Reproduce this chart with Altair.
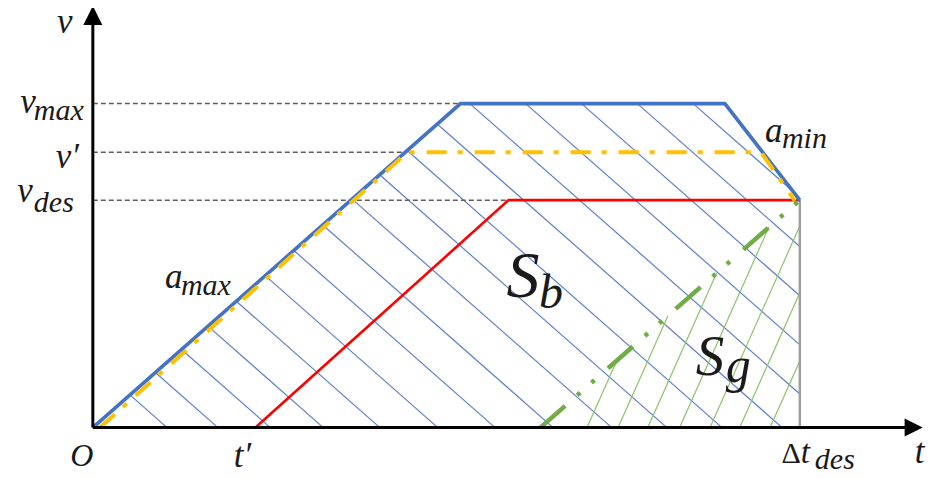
import altair as alt
import pandas as pd

# ---------------- data (t: time units, v: speed units) ----------------
T_DES = 10.0          # Δt_des
V_MAX = 10.0          # v_max
V_PRIME = 8.5         # v'
V_DES = 7.02          # v_des
T_APEX = 5.2          # end of a_max ramp
T_DECEL = 8.94        # start of a_min ramp
T_PRIME = 2.3         # t'
T_RED_CORNER = 5.88   # red profile reaches v_des
T_GREEN_START = 6.33  # green profile start
V_ARROW = 12.72       # top of v axis
T_ARROW = 11.61       # end of t axis

blue_t = [0.0, T_APEX, T_DECEL, T_DES]
blue_v = [0.0, V_MAX, V_MAX, V_DES]

yellow_t = [0.1, 4.45, 9.45, 9.93]
yellow_v = [0.0, V_PRIME, V_PRIME, 7.0]

red_t = [T_PRIME, T_RED_CORNER, T_DES]
red_v = [0.0, V_DES, V_DES]

green_t = [T_GREEN_START, T_DES]
green_v = [0.0, V_DES]

# hatch lines, given by where they cross v = 0
blue_hatch_t0 = [1.05, 1.77, 2.51, 3.26, 4.06, 4.88, 5.69, 6.51, 7.34, 8.12,
                 8.90, 9.75, 10.54, 11.33, 12.12, 12.91, 13.70]
BLUE_HATCH_SLOPE = -1.92
green_hatch_t0 = [6.99, 7.43, 7.85, 8.30, 8.73, 9.15, 9.58]
GREEN_HATCH_SLOPE = 4.9

blue_poly = list(zip(blue_t, blue_v)) + [(T_DES, 0.0)]
green_poly = [(T_GREEN_START, 0.0), (T_DES, V_DES), (T_DES, 0.0)]


def clip(t0, m, poly):
    pts = []
    n = len(poly)
    for i in range(n):
        (at, av), (bt, bv) = poly[i], poly[(i + 1) % n]
        fa = av - m * (at - t0)
        fb = bv - m * (bt - t0)
        if fa == fb:
            continue
        u = fa / (fa - fb)
        if -1e-9 <= u <= 1 + 1e-9:
            pts.append((at + u * (bt - at), av + u * (bv - av)))
    if len(pts) < 2:
        return None
    pts.sort()
    return pts[0], pts[-1]


def hatch_df(t0s, m, poly):
    rows = []
    for t0 in t0s:
        seg = clip(t0, m, poly)
        if seg and abs(seg[1][0] - seg[0][0]) > 1e-6:
            rows.append({"t": seg[0][0], "v": seg[0][1], "t2": seg[1][0], "v2": seg[1][1]})
    return pd.DataFrame(rows)


def path_df(ts, vs):
    return pd.DataFrame({"t": ts, "v": vs, "i": list(range(len(ts)))})


X_SCALE = alt.Scale(domain=[-1.2, 11.813], nice=False, zero=False)
Y_SCALE = alt.Scale(domain=[-1.3093, 12.95], nice=False, zero=False)
X = alt.X("t:Q", scale=X_SCALE, axis=None)
Y = alt.Y("v:Q", scale=Y_SCALE, axis=None)

layers = []

# hatching
layers.append(alt.Chart(hatch_df(blue_hatch_t0, BLUE_HATCH_SLOPE, blue_poly)).mark_rule(
    color="#5B7FCB", strokeWidth=1.2).encode(x=X, y=Y, x2="t2:Q", y2="v2:Q"))
layers.append(alt.Chart(hatch_df(green_hatch_t0, GREEN_HATCH_SLOPE, green_poly)).mark_rule(
    color="#8CC26A", strokeWidth=1.2).encode(x=X, y=Y, x2="t2:Q", y2="v2:Q"))

# gray dashed reference lines
ref = pd.DataFrame({
    "t": [0.0, 0.0, 0.0],
    "t2": [T_APEX, T_APEX * V_PRIME / V_MAX, T_RED_CORNER],
    "v": [V_MAX, V_PRIME, V_DES],
})
layers.append(alt.Chart(ref).mark_rule(color="#5E5E5E", strokeWidth=1.5, strokeDash=[5, 3]).encode(
    x=X, x2="t2:Q", y=Y))

# vertical gray line at Δt_des
vline = pd.DataFrame({"t": [T_DES], "v": [0.0], "v2": [V_DES]})
layers.append(alt.Chart(vline).mark_rule(color="#9E9E9E", strokeWidth=2.5).encode(x=X, y=Y, y2="v2:Q"))

# profiles
layers.append(alt.Chart(path_df(red_t, red_v)).mark_line(color="#FF0000", strokeWidth=2.6).encode(
    x=X, y=Y, order="i:Q"))
layers.append(alt.Chart(path_df(green_t, green_v)).mark_line(
    color="#70AD47", strokeWidth=4.5, strokeDash=[33, 16, 4, 15, 4, 18]).encode(x=X, y=Y, order="i:Q"))
layers.append(alt.Chart(path_df(blue_t, blue_v)).mark_line(color="#4472C4", strokeWidth=3.6).encode(
    x=X, y=Y, order="i:Q"))
layers.append(alt.Chart(path_df(yellow_t, yellow_v)).mark_line(
    color="#FFC000", strokeWidth=4, strokeDash=[20, 11, 5, 12]).encode(x=X, y=Y, order="i:Q"))

# axes
axes = pd.DataFrame({"t": [0.0, 0.0], "v": [0.0, 0.0], "t2": [0.0, T_ARROW], "v2": [V_ARROW, 0.0]})
layers.append(alt.Chart(axes).mark_rule(color="black", strokeWidth=3).encode(
    x=X, y=Y, x2="t2:Q", y2="v2:Q"))
layers.append(alt.Chart(pd.DataFrame({"t": [0.0], "v": [V_ARROW]})).mark_point(
    shape="M0,-1L-1,1L1,1Z", size=361, filled=True, color="black", opacity=1, strokeWidth=0).encode(x=X, y=Y))
layers.append(alt.Chart(pd.DataFrame({"t": [T_ARROW], "v": [0.0]})).mark_point(
    shape="M1,0L-1,-1L-1,1Z", size=324, filled=True, color="black", opacity=1, strokeWidth=0).encode(x=X, y=Y))

# labels: (text, anchor t, anchor v, dx, dy, font size, align, italic)
labels = [
    ("v", 0.0, V_ARROW, -28, 17.5, 35, "center", True),
    ("t", T_ARROW, 0.0, 6, 35, 35, "center", True),
    ("O", 0.0, 0.0, -11, 38, 32, "center", True),
    ("t\u2032", T_PRIME, 0.0, -13, 39, 35, "center", True),
    ("\u0394", T_DES, 0.0, 1, 35, 30, "right", False),
    ("t", T_DES, 0.0, 1, 35, 33, "left", True),
    ("des", T_DES, 0.0, 15, 41, 30, "left", True),
    ("v", 0.0, V_MAX, -57, 9.5, 35, "right", True),
    ("max", 0.0, V_MAX, -9, 16.5, 30, "right", True),
    ("v\u2032", 0.0, V_PRIME, -14, 16, 35, "right", True),
    ("v", 0.0, V_DES, -60, 2, 35, "right", True),
    ("des", 0.0, V_DES, -19, 11.5, 30, "right", True),
    ("a", T_APEX / 2, V_MAX / 2, -111.7, 22.4, 35, "left", True),
    ("max", T_APEX / 2, V_MAX / 2, -95.7, 29.4, 30, "left", True),
    ("a", (T_DECEL + T_DES) / 2, (V_MAX + V_DES) / 2, 2.6, -10, 35, "left", True),
    ("min", (T_DECEL + T_DES) / 2, (V_MAX + V_DES) / 2, 19.6, -3.9, 30, "left", True),
    ("S", T_RED_CORNER, V_DES, -2, 96.8, 66, "left", True),
    ("b", T_RED_CORNER, V_DES, 30.4, 107.8, 48, "left", True),
    ("S", T_DES, 0.0, -104, -52.6, 57, "left", True),
    ("g", T_DES, 0.0, -74, -46, 50, "left", True),
]
for text, t, v, dx, dy, fs, align, italic in labels:
    layers.append(alt.Chart(pd.DataFrame({"t": [t], "v": [v], "txt": [text]})).mark_text(
        font="Liberation Serif", fontStyle="italic" if italic else "normal", fontSize=fs,
        align=align, baseline="alphabetic", dx=dx, dy=dy, color="#1a1a1a").encode(
        x=X, y=Y, text="txt:N"))

chart = alt.layer(*layers).properties(
    width=920, height=462, padding=0,
    autosize=alt.AutoSizeParams(type="none"),
    background="white",
).configure_view(strokeWidth=0)

chart.save("out.html", embed_options={"renderer": "svg", "actions": False})
